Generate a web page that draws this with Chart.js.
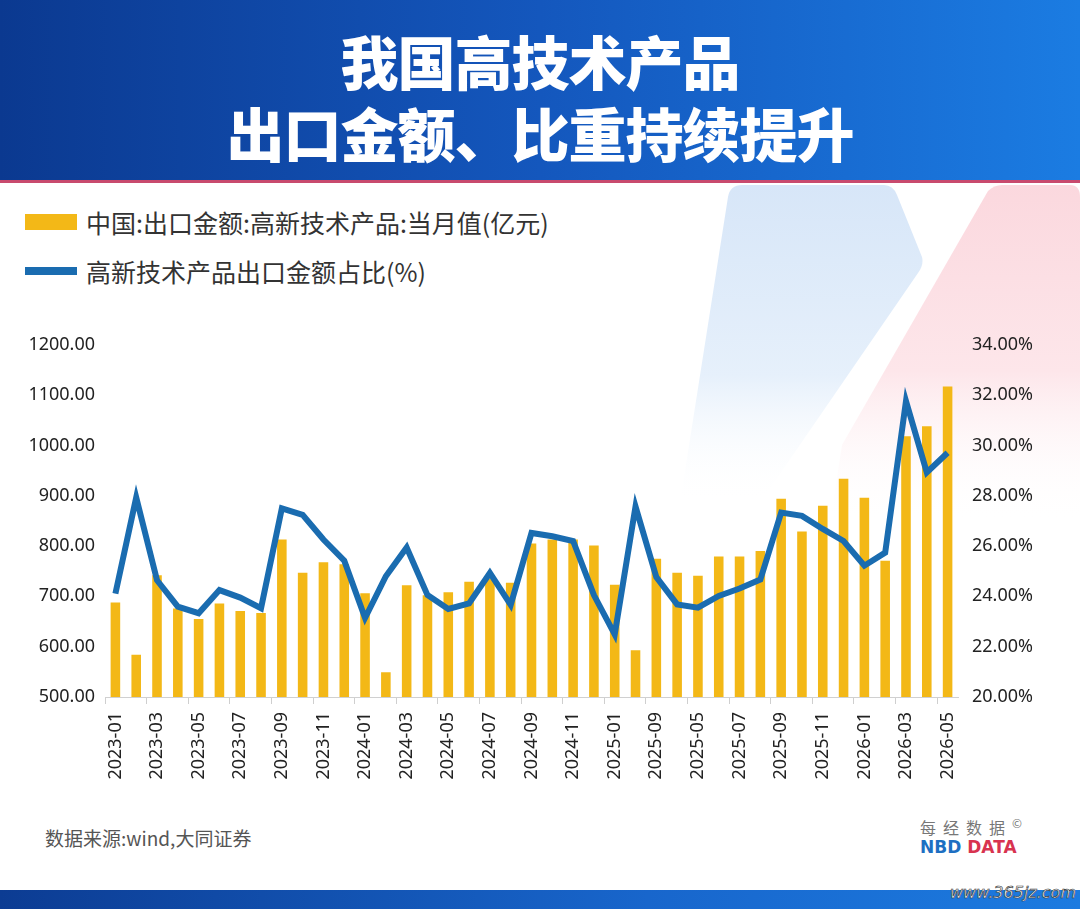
<!DOCTYPE html>
<html>
<head>
<meta charset="utf-8">
<script src="https://cdn.jsdelivr.net/npm/chart.js@4/dist/chart.umd.min.js"></script>
<style>
    html, body { margin: 0; padding: 0; }
    body {
        width: 1080px; height: 909px; position: relative; overflow: hidden;
        background: #fff;
        font-family: "Noto Sans CJK SC", "Noto Sans", sans-serif;
    }
    .header {
        position: absolute; left: 0; top: 0; width: 1080px; height: 180px;
        background: linear-gradient(90deg, #0b3990 0%, #1457bd 50%, #1b7ce2 100%);
        border-bottom: 3px solid #c84a6e;
    }
    .header h1 {
        margin: 0; position: absolute; left: 0; width: 1080px; text-align: center;
        color: #fff; font-size: 58px; font-weight: 900; line-height: 1;
        letter-spacing: -1px;
    }
    .bg-shapes { position: absolute; left: 0; top: 183px; }
    .legend { position: absolute; left: 25px; top: 197px; }
    .legend div { position: relative; height: 49px; display: flex; align-items: center; }
    .legend span.mk { display: inline-block; width: 52px; margin-right: 9px; }
    .legend span.tx { font-size: 25px; color: #333; }
    #wrap { position: absolute; left: 0; top: 320px; width: 1080px; height: 480px; }
    .source { position: absolute; left: 45px; top: 824px; font-size: 19px; color: #555; }
    .logo { position: absolute; left: 920px; top: 814px; }
    .logo .cn { font-size: 16px; color: #777; letter-spacing: 7px; }
    .logo .cn sup { font-size: 12px; letter-spacing: 0; }
    .logo .en { font-family: "DejaVu Sans", sans-serif; font-weight: bold; font-size: 17px; margin-top: -2px; }
    .footer {
        position: absolute; left: 0; top: 890px; width: 1080px; height: 19px;
        background: linear-gradient(90deg, #0c3c93 0%, #1866cc 60%, #1c7be0 100%);
    }
    .wm {
        position: absolute; right: 4px; top: 883px; font-family: "DejaVu Sans", sans-serif;
        font-size: 16px; color: #fff; -webkit-text-stroke: 0.6px #333; font-style: italic;
    }
</style>
</head>
<body>
<div class="header">
    <h1 style="top:31px">我国高技术产品</h1>
    <h1 style="top:103px">出口金额、比重持续提升</h1>
</div>

<svg class="bg-shapes" width="1080" height="420">
    <defs>
        <linearGradient id="gBlue" x1="0" y1="0" x2="0" y2="1">
            <stop offset="0" stop-color="#d7e6f8"/>
            <stop offset="0.6" stop-color="#e6f0fb"/>
            <stop offset="1" stop-color="#ffffff" stop-opacity="0"/>
        </linearGradient>
        <linearGradient id="gPink" x1="0" y1="0" x2="0" y2="1">
            <stop offset="0" stop-color="#fbd8de"/>
            <stop offset="0.55" stop-color="#fde6ea"/>
            <stop offset="1" stop-color="#ffffff" stop-opacity="0"/>
        </linearGradient>
    </defs>
    <path d="M728,14 Q730,2 742,2 L884,2 Q893,2 897,12 L922,74 Q924,82 918,90 L760,320 L680,320 Z" fill="url(#gBlue)"/>
    <path d="M988,8 Q994,2 1002,2 L1070,2 Q1080,2 1080,14 L1080,340 L830,340 L842,262 Z" fill="url(#gPink)"/>
</svg>

<div class="legend" id="legend"></div>

<div id="wrap"><canvas id="bieuDo"></canvas></div>

<div class="source">数据来源:wind,大同证券</div>
<div class="logo">
    <div class="cn">每经数据<sup>©</sup></div>
    <div class="en"><span style="color:#1d6fc2">NBD</span> <span style="color:#d8334f">DATA</span></div>
</div>
<div class="footer"></div>
<div class="wm">www.365jz.com</div>

<script>
// danh mục tháng
const thang = [
    "2023-01", "2023-02", "2023-03", "2023-04", "2023-05", "2023-06",
    "2023-07", "2023-08", "2023-09", "2023-10", "2023-11", "2023-12",
    "2024-01", "2024-02", "2024-03", "2024-04", "2024-05", "2024-06",
    "2024-07", "2024-08", "2024-09", "2024-10", "2024-11", "2024-12",
    "2025-01", "2025-02", "2025-03", "2025-04", "2025-05", "2025-06",
    "2025-07", "2025-08", "2025-09", "2025-10", "2025-11", "2025-12",
    "2026-01", "2026-02", "2026-03", "2026-04", "2026-05"
];

// nhãn trục x như trong hình (mỗi 2 tháng)
const nhanTrucX = [
    "2023-01", "2023-03", "2023-05", "2023-07", "2023-09", "2023-11",
    "2024-01", "2024-03", "2024-05", "2024-07", "2024-09", "2024-11",
    "2025-01", "2025-09", "2025-05", "2025-07", "2025-09", "2025-11",
    "2026-01", "2026-03", "2026-05"
];

// xuất khẩu sản phẩm công nghệ cao (亿元)
const giaTriXuatKhau = [
    688, 584, 742, 676, 655, 686, 671, 667, 813, 747, 768, 764,
    706, 549, 722, 702, 708, 729, 735, 727, 805, 813, 813, 801,
    723, 593, 775, 747, 741, 779, 779, 790, 894, 829, 880, 934,
    896, 771, 1018, 1038, 1117
];

// tỷ trọng (%)
const tyTrong = [
    24.11, 27.93, 24.64, 23.59, 23.33, 24.25, 23.95, 23.53, 27.50, 27.24, 26.26, 25.42,
    23.14, 24.80, 25.94, 24.05, 23.50, 23.72, 24.93, 23.66, 26.52, 26.39, 26.20, 24.05,
    22.49, 27.57, 24.77, 23.68, 23.55, 24.02, 24.31, 24.67, 27.33, 27.20, 26.68, 26.20,
    25.22, 25.74, 31.76, 28.93, 29.71
];

const tenCot = "中国:出口金额:高新技术产品:当月值(亿元)";
const tenDuong = "高新技术产品出口金额占比(%)";

const mauCot = "#f3b817";
const mauDuong = "#1a6cb0";

// chú thích
const legend = document.getElementById("legend");
legend.innerHTML = `
    <div><span class="mk" style="height:16px;background:${mauCot}"></span><span class="tx">${tenCot}</span></div>
    <div><span class="mk" style="height:8px;background:${mauDuong}"></span><span class="tx">${tenDuong}</span></div>
`;

const fontSo = { family: "'Noto Sans', sans-serif", size: 18 };

// vẽ biểu đồ
const ctx = document.getElementById("bieuDo").getContext("2d");
new Chart(ctx, {
    data: {
        labels: thang,
        datasets: [
            {
                type: "line",
                label: tenDuong,
                data: tyTrong,
                yAxisID: "y1",
                borderColor: mauDuong,
                borderWidth: 6,
                pointRadius: 0,
                tension: 0,
                order: 0,
            },
            {
                type: "bar",
                label: tenCot,
                data: giaTriXuatKhau,
                yAxisID: "y",
                backgroundColor: mauCot,
                barPercentage: 0.46,
                categoryPercentage: 1,
                order: 1,
            },
        ],
    },
    options: {
        responsive: true,
        maintainAspectRatio: false,
        animation: false,
        layout: { padding: { top: 19, left: 0, right: 0, bottom: 0 } },
        plugins: { legend: { display: false }, tooltip: { enabled: false } },
        scales: {
            x: {
                afterFit: (s) => { s.height = 103; },
                border: { color: "#d0d0d0", width: 1 },
                grid: {
                    drawOnChartArea: false,
                    tickLength: 7,
                    color: (c) => (c.index % 2 === 0 ? "#cfcfcf" : "rgba(0,0,0,0)"),
                },
                ticks: {
                    autoSkip: false,
                    maxRotation: 90,
                    minRotation: 90,
                    padding: 8,
                    color: "#222",
                    font: fontSo,
                    callback: (v, i) => (i % 2 === 0 ? nhanTrucX[i / 2] : ""),
                },
            },
            y: {
                position: "left",
                min: 500,
                max: 1200,
                afterFit: (s) => { s.width = 105; },
                border: { display: false },
                grid: { display: false, drawTicks: false },
                ticks: {
                    stepSize: 100,
                    padding: 10,
                    color: "#222",
                    font: fontSo,
                    callback: (v) => Number(v).toFixed(2),
                },
            },
            y1: {
                position: "right",
                min: 20,
                max: 34,
                afterFit: (s) => { s.width = 122; },
                border: { display: false },
                grid: { display: false, drawTicks: false },
                ticks: {
                    stepSize: 2,
                    padding: 14,
                    color: "#222",
                    font: fontSo,
                    callback: (v) => Number(v).toFixed(2) + "%",
                },
            },
        },
    },
});
</script>
</body>
</html>
